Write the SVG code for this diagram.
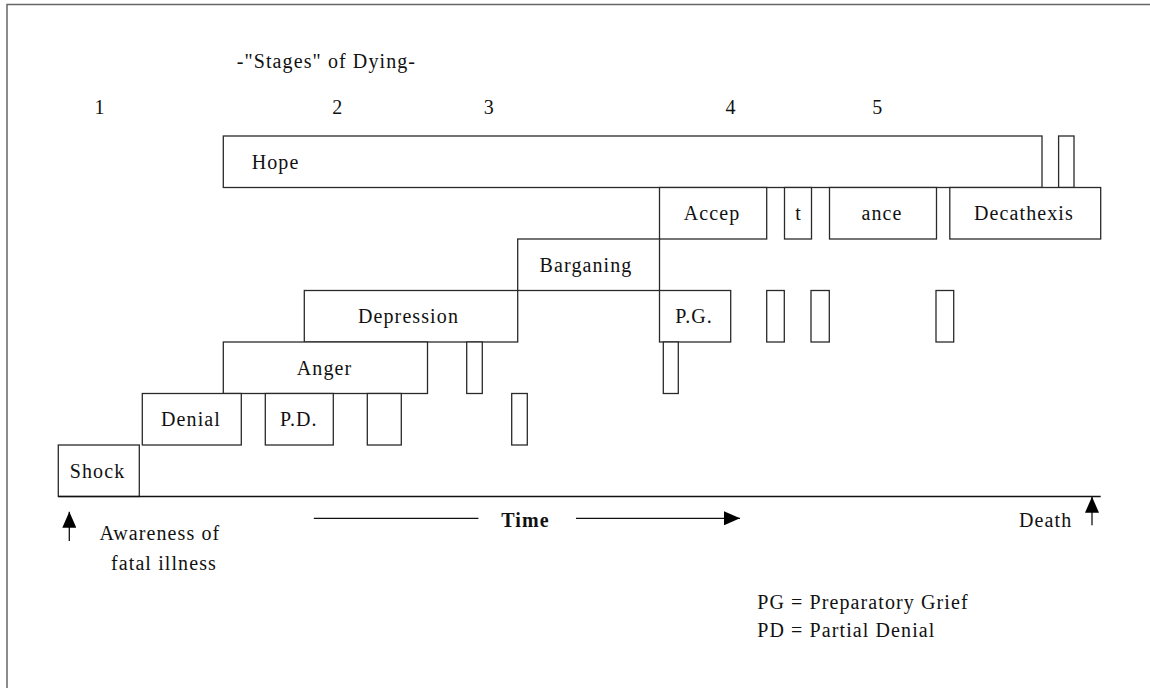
<svg xmlns="http://www.w3.org/2000/svg" width="1150" height="688" viewBox="0 0 1150 688">
<style>
.bx{fill:#fff;stroke:#2a2a2a;stroke-width:1.3}
.t{font-family:"Liberation Serif","Times New Roman",serif;font-size:20px;letter-spacing:1.1px;fill:#111}
.m{text-anchor:middle}
.b{font-weight:bold}
.ln{stroke:#111;stroke-width:1.3;fill:none}
</style>
<defs>
<marker id="ah" markerUnits="userSpaceOnUse" markerWidth="16" markerHeight="14" refX="16" refY="7" orient="auto">
<path d="M0,0 L16,7 L0,14 z" fill="#000"/>
</marker>
</defs>
<rect x="0" y="0" width="1150" height="688" fill="#fff"/>
<path d="M7,688 V4.5 H1150" fill="none" stroke="#666" stroke-width="1.5"/>

<text class="t" x="236.7" y="68">-"Stages" of Dying-</text>
<g id="stage-numbers">
<text class="t m" x="100" y="114">1</text>
<text class="t m" x="337.7" y="114">2</text>
<text class="t m" x="489.3" y="114">3</text>
<text class="t m" x="731" y="114">4</text>
<text class="t m" x="877.7" y="114">5</text>
</g>

<g id="hope"><rect class="bx" x="223.3" y="136" width="818.7" height="51.5"/><text class="t" x="251.7" y="168.5">Hope</text></g>
<g id="hope-gap"><rect class="bx" x="1058.6" y="136" width="15.4" height="51.5"/></g>

<g id="accep"><rect class="bx" x="659.5" y="187.5" width="107.2" height="51.5"/><text class="t m" x="712" y="220">Accep</text></g>
<g id="t"><rect class="bx" x="784.5" y="187.5" width="27" height="51.5"/><text class="t m" x="798.5" y="220">t</text></g>
<g id="ance"><rect class="bx" x="829.5" y="187.5" width="107" height="51.5"/><text class="t m" x="882" y="220">ance</text></g>
<g id="decathexis"><rect class="bx" x="949.8" y="187.5" width="150.9" height="51.5"/><text class="t m" x="1024" y="220">Decathexis</text></g>

<g id="barganing"><rect class="bx" x="517.7" y="239" width="141.8" height="51.5"/><text class="t m" x="586" y="271.5">Barganing</text></g>

<g id="depression"><rect class="bx" x="304.3" y="290.5" width="213.4" height="51.5"/><text class="t m" x="408.5" y="323">Depression</text></g>
<g id="pg"><rect class="bx" x="659.5" y="290.5" width="71.2" height="51.5"/><text class="t m" x="694" y="323">P.G.</text></g>
<g id="pg-gap1"><rect class="bx" x="766.7" y="290.5" width="17.6" height="51.5"/></g>
<g id="pg-gap2"><rect class="bx" x="811" y="290.5" width="18.3" height="51.5"/></g>
<g id="pg-gap3"><rect class="bx" x="936" y="290.5" width="17.7" height="51.5"/></g>

<g id="anger"><rect class="bx" x="223.3" y="342" width="204.2" height="51.5"/><text class="t m" x="324.5" y="374.5">Anger</text></g>
<g id="anger-gap1"><rect class="bx" x="466.7" y="342" width="15.6" height="51.5"/></g>
<g id="anger-gap2"><rect class="bx" x="663.3" y="342" width="15" height="51.5"/></g>

<g id="denial"><rect class="bx" x="142.3" y="393.5" width="99" height="51.5"/><text class="t m" x="191" y="426">Denial</text></g>
<g id="pd"><rect class="bx" x="265.3" y="393.5" width="68" height="51.5"/><text class="t m" x="298.8" y="426">P.D.</text></g>
<g id="denial-gap1"><rect class="bx" x="367.3" y="393.5" width="34" height="51.5"/></g>
<g id="denial-gap2"><rect class="bx" x="511.7" y="393.5" width="15.6" height="51.5"/></g>

<g id="shock"><rect class="bx" x="58.3" y="445" width="81" height="51.5"/><text class="t m" x="97.5" y="477.5">Shock</text></g>

<g id="connectors">
<line class="ln" x1="58.3" y1="496.5" x2="1100.7" y2="496.5" stroke="#444"/>
<line class="ln" x1="69.3" y1="541" x2="69.3" y2="511.7" marker-end="url(#ah)"/>
<line class="ln" x1="1092" y1="525.3" x2="1092" y2="496.7" marker-end="url(#ah)"/>
<line class="ln" x1="313.8" y1="518.3" x2="478.4" y2="518.3"/>
<line class="ln" x1="576" y1="518.3" x2="740" y2="518.3" marker-end="url(#ah)"/>
</g>

<text class="t b m" x="525.5" y="526.7">Time</text>
<text class="t" x="1019" y="526.7">Death</text>
<text class="t" x="99.5" y="540">Awareness of</text>
<text class="t" x="111" y="570">fatal illness</text>
<text class="t" x="757.2" y="609">PG = Preparatory Grief</text>
<text class="t" x="757.2" y="637">PD = Partial Denial</text>
</svg>
